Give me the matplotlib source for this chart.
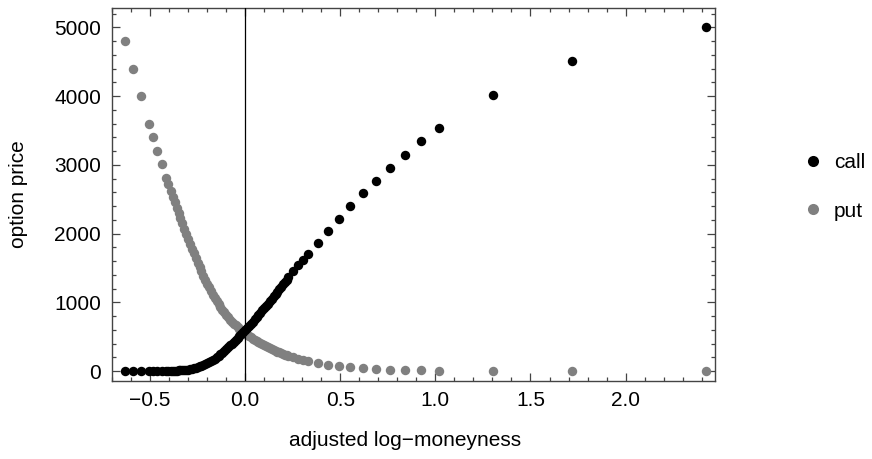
import matplotlib
matplotlib.use("Agg")
import matplotlib.pyplot as plt
from matplotlib.lines import Line2D
from matplotlib.ticker import MultipleLocator, FuncFormatter

plt.rcParams['font.family'] = ['Liberation Sans', 'DejaVu Sans']

# adjusted log-moneyness (shared by calls and puts)
x_left = [-0.632, -0.591, -0.549, -0.507, -0.486, -0.462, -0.438, -0.414, -0.404, -0.391, -0.379]
x_mid = [-0.37, -0.36, -0.35, -0.34, -0.33, -0.32, -0.31, -0.30, -0.29, -0.28,
         -0.27, -0.26, -0.25, -0.24, -0.23, -0.22, -0.21, -0.20, -0.19, -0.18,
         -0.17, -0.16, -0.15, -0.14, -0.13, -0.12, -0.11, -0.10, -0.09, -0.08,
         -0.07, -0.06, -0.05, -0.04, -0.03, -0.02, -0.01, 0.00, 0.01, 0.02,
         0.03, 0.04, 0.05, 0.06, 0.07, 0.08, 0.09, 0.10, 0.11, 0.12,
         0.13, 0.14, 0.15, 0.16, 0.17, 0.18, 0.19, 0.20, 0.21, 0.22,
         0.226, 0.250, 0.276, 0.302]
x_right = [0.330, 0.381, 0.435, 0.491, 0.553, 0.617, 0.686, 0.761, 0.842, 0.926, 1.018, 1.305, 1.716, 2.421]

call_left = [1, 1, 1, 2, 2, 2, 3, 3, 4, 4, 5]
call_mid = [6, 7, 8, 10, 12, 15, 18, 22, 27, 33,
            40, 49, 57, 67, 77, 89, 101, 115, 129, 145,
            161, 179, 198, 219, 242, 266, 291, 318, 344, 372,
            400, 428, 457, 485, 514, 542, 571, 600, 629, 659,
            689, 720, 751, 783, 815, 848, 881, 914, 947, 981,
            1016, 1050, 1085, 1119, 1154, 1189, 1224, 1259, 1294, 1329,
            1367, 1449, 1536, 1622]
call_right = [1696, 1860, 2039, 2214, 2394, 2583, 2766, 2955, 3140, 3343, 3532, 4012, 4506, 5000]

put_left = [4801, 4400, 3997, 3600, 3405, 3202, 3009, 2810, 2714, 2616, 2525]
put_mid = [2453, 2376, 2300, 2223, 2147, 2072, 1997, 1924, 1851, 1780,
           1710, 1642, 1576, 1511, 1448, 1387, 1328, 1271, 1216, 1163,
           1112, 1063, 1017, 972, 930, 890, 852, 815, 781, 749,
           718, 690, 663, 638, 614, 592, 569, 548, 527, 508,
           488, 470, 452, 435, 419, 403, 387, 372, 358, 344,
           331, 318, 305, 293, 282, 270, 260, 249, 239, 230,
           219, 199, 178, 160]
put_right = [146, 116, 91, 73, 55, 40, 29, 18, 12, 9, 7, 5, 4, 3]

series_names = ['call', 'put']

xs = x_left + x_mid + x_right
calls = call_left + call_mid + call_right
puts = put_left + put_mid + put_right

W, H = 872, 459
fig = plt.figure(figsize=(W / 100, H / 100), dpi=100)
ax = fig.add_axes([112 / W, 1 - 381 / H, (715 - 112) / W, (381 - 8) / H])

ms = 6.8
ax.plot(xs, calls, 'o', color='black', ms=ms, mew=0, zorder=3)
ax.plot(xs, puts, 'o', color='#808080', ms=ms, mew=0, zorder=2)
ax.axvline(0, color='black', lw=0.9, zorder=4)

ax.set_xlim(-0.70, 2.47)
ax.set_ylim(-145, 5280)

ax.xaxis.set_major_locator(MultipleLocator(0.5))
ax.xaxis.set_minor_locator(MultipleLocator(0.1))
ax.yaxis.set_major_locator(MultipleLocator(1000))
ax.yaxis.set_minor_locator(MultipleLocator(200))
ax.xaxis.set_major_formatter(FuncFormatter(lambda v, p: f"{v:.1f}".replace('-', '\u2212')))

frame_col = '#444444'
for sp in ax.spines.values():
    sp.set_color(frame_col)
    sp.set_linewidth(1.0)
fs = 15
ax.tick_params(which='both', direction='in', top=True, right=True, color=frame_col,
               labelsize=fs, labelcolor='black', width=0.9)
ax.tick_params(which='major', length=5.5)
ax.tick_params(axis='x', which='major', pad=7)
ax.tick_params(axis='y', which='major', pad=8)
ax.tick_params(which='minor', length=3)

ax.set_xlabel('adjusted log\u2212moneyness', fontsize=fs, va='center')
ax.set_ylabel('option price', fontsize=fs, va='center', ha='center')
ax.yaxis.set_label_coords((19 - 112) / 603, 0.5)
ax.xaxis.set_label_coords((405 - 112) / 603, (381 - 440) / 373)

handles = [Line2D([], [], marker='o', ls='', color='black', ms=8, mew=0),
           Line2D([], [], marker='o', ls='', color='#808080', ms=8, mew=0)]
fig.legend(handles, series_names, loc='center left', bbox_to_anchor=(792 / W, 1 - 187 / H),
           frameon=False, fontsize=fs, handletextpad=0.5, labelspacing=1.4,
           handlelength=1.0, borderpad=0)

fig.savefig('out.png', dpi=100)
